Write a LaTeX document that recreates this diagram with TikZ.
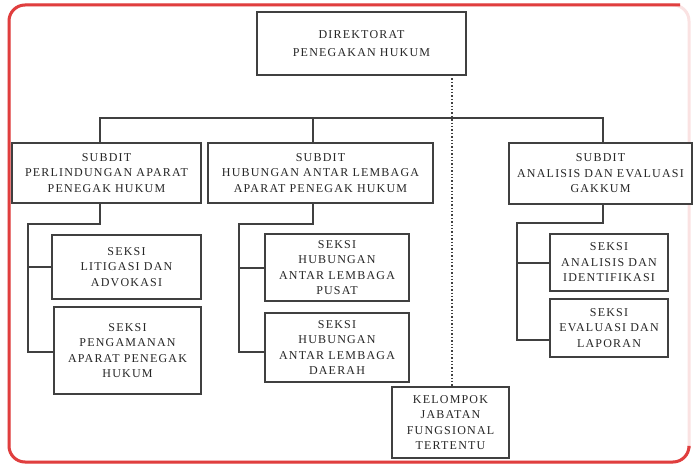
\documentclass[tikz,border=0pt]{standalone}
\usepackage{fontspec}
\setmainfont{Liberation Serif}[LetterSpace=10]
\usetikzlibrary{positioning}
\definecolor{framered}{RGB}{224,62,62}

\tikzset{
    unit/.style={draw=black!75, line width=1.4pt, fill=white, align=center, inner sep=0pt,
        text=black!85, font=\fontsize{12}{15.5}\selectfont},
    link/.style={draw=black!75, line width=1.4pt},
}

\begin{document}
\begin{tikzpicture}[x=1pt, y=-1pt]
    \useasboundingbox (0,0) rectangle (694,465);

    % frame
    \draw[framered!15, line width=3pt, rounded corners=16pt] (9,5) rectangle (689,462);
    \draw[framered, line width=3pt, rounded corners=16pt] (680,5) -- (9,5) -- (9,462) -- (689,462) -- (689,448);

    % direktorat
    \node[unit, minimum width=209, minimum height=63, font=\fontsize{12}{18}\selectfont] (dir) at (361.5,43.5) {DIREKTORAT\\PENEGAKAN HUKUM};

    % subdit
    \node[unit, minimum width=189, minimum height=60] (sub1) at (106.5,173) {SUBDIT\\PERLINDUNGAN APARAT\\PENEGAK HUKUM};
    \node[unit, minimum width=225, minimum height=60] (sub2) at (320.5,173) {SUBDIT\\HUBUNGAN ANTAR LEMBAGA\\APARAT PENEGAK HUKUM};
    \node[unit, minimum width=183, minimum height=61] (sub3) at (600.5,173.5) {SUBDIT\\ANALISIS DAN EVALUASI\\GAKKUM};

    % seksi
    \node[unit, minimum width=149, minimum height=64] (lit) at (126.5,267) {SEKSI\\LITIGASI DAN\\ADVOKASI};
    \node[unit, minimum width=147, minimum height=87] (pen) at (127.5,350.5) {SEKSI\\PENGAMANAN\\APARAT PENEGAK\\HUKUM};
    \node[unit, minimum width=144, minimum height=67] (pus) at (337,267.5) {SEKSI\\HUBUNGAN\\ANTAR LEMBAGA\\PUSAT};
    \node[unit, minimum width=144, minimum height=69] (dae) at (337,347.5) {SEKSI\\HUBUNGAN\\ANTAR LEMBAGA\\DAERAH};
    \node[unit, minimum width=118, minimum height=57] (ide) at (609,262.5) {SEKSI\\ANALISIS DAN\\IDENTIFIKASI};
    \node[unit, minimum width=118, minimum height=58] (lap) at (609,328) {SEKSI\\EVALUASI DAN\\LAPORAN};

    % kelompok
    \node[unit, minimum width=117, minimum height=71] (kel) at (450.5,422.5) {KELOMPOK\\JABATAN\\FUNGSIONAL\\TERTENTU};

    % bus to subdit
    \coordinate (b1) at (100,118);
    \coordinate (b2) at (313,118);
    \coordinate (b3) at (603,118);
    \draw[link] (b1 |- sub1.north) -- (b1) -- (b3) -- (b3 |- sub3.north);
    \draw[link] (b2) -- (b2 |- sub2.north);

    % dotted line to kelompok
    \coordinate (d) at (452,75);
    \draw[link, dotted] (d) -- (d |- kel.north);

    % subdit to seksi
    \coordinate (k1) at (100,224);
    \coordinate (r1) at (28,224);
    \draw[link] (k1 |- sub1.south) -- (k1) -- (r1) |- ([yshift=-1.5]pen.west);
    \draw[link] (r1 |- lit.west) -- (lit.west);

    \coordinate (k2) at (313,224);
    \coordinate (r2) at (239,224);
    \draw[link] (k2 |- sub2.south) -- (k2) -- (r2) |- ([yshift=-4.5]dae.west);
    \draw[link] (r2 |- pus.west) ++(0,0.5) -- ([yshift=-0.5]pus.west);

    \coordinate (k3) at (603,223);
    \coordinate (r3) at (517,223);
    \draw[link] (k3 |- sub3.south) -- (k3) -- (r3) |- ([yshift=-12]lap.west);
    \draw[link] (r3 |- ide.west) ++(0,0.5) -- ([yshift=-0.5]ide.west);

\end{tikzpicture}
\end{document}
